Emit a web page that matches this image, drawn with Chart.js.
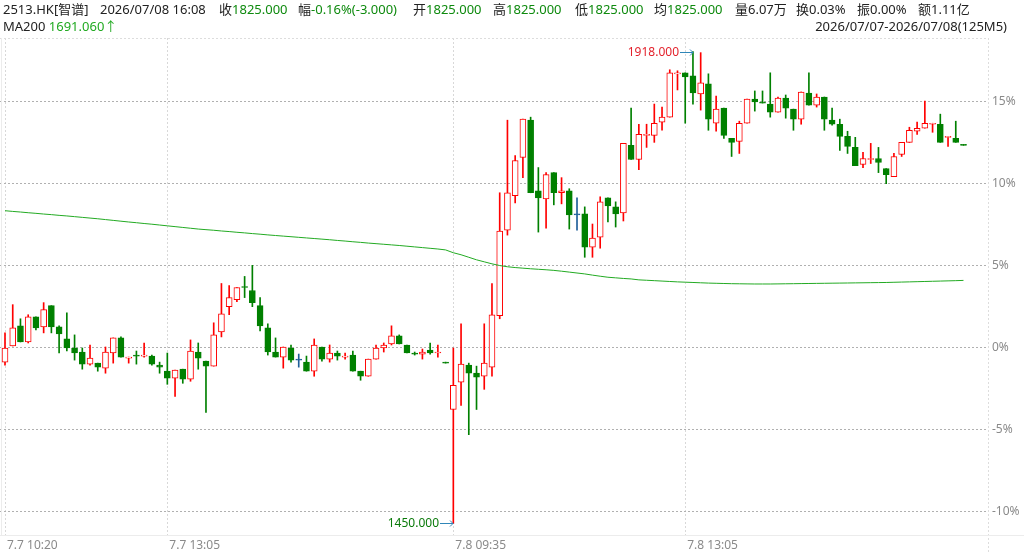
<!DOCTYPE html>
<html>
<head>
<meta charset="utf-8">
<script src="https://cdn.jsdelivr.net/npm/chart.js"></script>
<style>
  body { margin: 0; background: #fff; }
  #wrap { position: relative; width: 1024px; height: 553px; overflow: hidden; font-family: "Noto Sans", "Noto Sans CJK SC", sans-serif; font-size: 13px; color: #222; }
  #wrap canvas { position: absolute; left: 0; top: 0; }
  .t { position: absolute; white-space: nowrap; line-height: 18px; }
  .g { color: #0e8a0e; }
  .ma { color: #22aa22; }
</style>
</head>
<body>
<div id="wrap">
  <canvas id="kline" width="1024" height="553"></canvas>
  <div class="t" style="left:3px;top:0px">2513.HK[智谱]</div>
  <div class="t" style="left:100px;top:0px">2026/07/08 16:08</div>
  <div class="t" style="left:219px;top:0px">收<span class="g">1825.000</span></div>
  <div class="t" style="left:298px;top:0px">幅<span class="g">-0.16%(-3.000)</span></div>
  <div class="t" style="left:413px;top:0px">开<span class="g">1825.000</span></div>
  <div class="t" style="left:493px;top:0px">高<span class="g">1825.000</span></div>
  <div class="t" style="left:575px;top:0px">低<span class="g">1825.000</span></div>
  <div class="t" style="left:654px;top:0px">均<span class="g">1825.000</span></div>
  <div class="t" style="left:735px;top:0px">量6.07万</div>
  <div class="t" style="left:796px;top:0px">换0.03%</div>
  <div class="t" style="left:857px;top:0px">振0.00%</div>
  <div class="t" style="left:918px;top:0px">额1.11亿</div>
  <div class="t" style="left:3px;top:17px">MA200 <span class="ma">1691.060↑</span></div>
  <div class="t" style="right:17px;top:17px">2026/07/07-2026/07/08(125M5)</div>
</div>
<script>
// 5 minute bars, 7/7 10:20 -> 7/8 16:10
var opens = [1610,1626,1646,1630,1655,1645,1666,1645,1633,1624,
  1620,1608,1609,1604,1619,1634,1614,1617,1616,1616,
  1607,1601,1594,1603,1593,1620,1611,1606,1640,1665,
  1672,1685,1681,1666,1644,1620,1615,1624,1612,1610,
  1601,1625,1613,1619,1615,1617,1601,1596,1613,1624,
  1628,1636,1627,1619,1618,1622,1619,1609,1563,1590,
  1607,1599,1596,1605,1656,1741,1775,1813,1850,1780,
  1772,1798,1778,1780,1756,1757,1724,1734,1773,1764,
  1758,1825,1811,1835,1835,1848,1853,1896,1897,1894,
  1876,1886,1847,1862,1832,1829,1847,1871,1868,1866,
  1858,1872,1861,1851,1877,1865,1873,1850,1846,1834,
  1823,1806,1811,1812,1802,1794,1816,1828,1839,1842,
  1846,1846,1833,1832,1825];
var highs = [1639,1667,1653,1657,1655,1669,1666,1646,1659,1637,
  1624,1627,1609,1625,1634,1635,1615,1621,1629,1617,
  1610,1619,1602,1603,1632,1629,1611,1649,1688,1686,
  1684,1695,1706,1674,1648,1634,1625,1627,1618,1616,
  1633,1625,1627,1621,1619,1621,1601,1613,1627,1629,
  1646,1637,1627,1620,1623,1629,1627,1609,1624,1648,
  1609,1606,1648,1688,1778,1850,1815,1851,1853,1803,
  1798,1798,1793,1782,1773,1764,1747,1774,1773,1769,
  1827,1862,1846,1846,1866,1863,1900,1899,1897,1918,
  1917,1896,1874,1862,1832,1849,1871,1879,1879,1897,
  1873,1875,1861,1878,1897,1876,1873,1862,1851,1839,
  1833,1818,1827,1823,1802,1817,1828,1843,1848,1869,
  1847,1856,1834,1849,1825];
var lows = [1607,1626,1630,1629,1642,1639,1639,1619,1621,1612,
  1603,1607,1601,1599,1609,1615,1609,1608,1615,1607,
  1599,1588,1576,1589,1591,1603,1560,1606,1635,1657,
  1670,1674,1665,1641,1617,1615,1604,1610,1605,1601,
  1596,1611,1610,1612,1613,1601,1592,1596,1613,1620,
  1627,1628,1619,1617,1613,1618,1615,1609,1450,1567,
  1538,1563,1583,1596,1653,1736,1768,1793,1778,1739,
  1743,1766,1767,1742,1741,1714,1714,1723,1749,1744,
  1750,1811,1801,1823,1828,1840,1853,1880,1847,1866,
  1860,1840,1839,1832,1814,1817,1847,1859,1867,1853,
  1858,1852,1840,1846,1865,1863,1840,1845,1820,1817,
  1805,1803,1807,1798,1787,1794,1814,1828,1836,1842,
  1838,1828,1824,1828,1825];
var closes = [1624,1644,1630,1655,1644,1662,1645,1638,1624,1619,
  1608,1614,1605,1620,1634,1615,1615,1616,1617,1608,
  1605,1594,1602,1593,1621,1614,1606,1637,1658,1674,
  1684,1684,1669,1646,1620,1615,1625,1612,1612,1601,
  1627,1613,1619,1616,1616,1601,1596,1613,1624,1627,
  1636,1628,1619,1618,1620,1619,1620,1609,1587,1608,
  1599,1595,1609,1657,1740,1778,1810,1851,1778,1773,
  1796,1778,1780,1756,1756,1724,1733,1769,1765,1757,
  1827,1811,1836,1836,1847,1853,1897,1897,1893,1877,
  1887,1851,1861,1835,1828,1847,1871,1868,1867,1858,
  1872,1862,1851,1878,1865,1873,1851,1846,1834,1824,
  1805,1812,1812,1808,1796,1814,1828,1840,1842,1847,
  1847,1828,1834,1828,1825];
var ma200 = [1760.2,1759.5,1758.9,1758.2,1757.6,1756.9,1756.3,1755.6,1755.0,1754.3,
  1753.6,1752.9,1752.2,1751.4,1750.6,1749.8,1749.0,1748.3,1747.5,1746.8,
  1746.0,1745.2,1744.4,1743.6,1742.8,1742.0,1741.4,1740.8,1740.1,1739.5,
  1738.8,1738.2,1737.5,1736.9,1736.2,1735.6,1735.0,1734.4,1733.8,1733.2,
  1732.6,1732.0,1731.4,1730.7,1730.1,1729.4,1728.8,1728.1,1727.5,1726.9,
  1726.3,1725.7,1725.0,1724.3,1723.6,1722.9,1722.2,1721.3,1718.5,1716.5,
  1714.0,1711.5,1709.5,1707.5,1705.8,1704.6,1703.8,1703.2,1702.6,1702.1,
  1701.6,1701.0,1700.2,1699.3,1698.4,1697.5,1696.3,1695.2,1694.2,1693.6,
  1693.0,1692.5,1691.6,1691.2,1690.8,1690.4,1690.0,1689.6,1689.3,1689.0,
  1688.7,1688.4,1688.2,1688.0,1687.8,1687.7,1687.6,1687.5,1687.5,1687.5,
  1687.6,1687.7,1687.8,1687.9,1688.0,1688.1,1688.2,1688.3,1688.4,1688.5,
  1688.6,1688.7,1688.8,1688.9,1689.0,1689.2,1689.4,1689.6,1689.8,1690.0,
  1690.2,1690.4,1690.6,1690.8,1691.06];

var preClose = 1624.5;           // percentage axis is relative to this
var pctTicks = [15, 10, 5, 0, -5, -10];
var xLabelIdx = [0, 21, 58, 88];
var xLabelText = ['7.7 10:20', '7.7 13:05', '7.8 09:35', '7.8 13:05'];

var UP = '#ff0000', DOWN = '#008000', FLAT = '#1f5f99';
var colors = closes.map(function (c, i) {
  var o = opens[i];
  if (c > o) return UP;
  if (c < o) return DOWN;
  var prev = i > 0 ? closes[i - 1] : o;
  if (c > prev) return UP;
  if (c < prev) return DOWN;
  return FLAT;
});

var FONT = '"Noto Sans", "Noto Sans CJK SC", sans-serif';

// frame lines + high/low markers
var framePlugin = {
  id: 'frame',
  beforeDatasetsDraw: function (chart) {
    var a = chart.chartArea, ctx = chart.ctx;
    ctx.save();
    ctx.lineWidth = 1;
    ctx.strokeStyle = '#dddddd';
    ctx.setLineDash([2, 2]);
    ctx.beginPath();
    ctx.moveTo(a.left, a.top + 0.5); ctx.lineTo(a.right, a.top + 0.5);
    ctx.moveTo(a.right + 0.5, a.top); ctx.lineTo(a.right + 0.5, chart.height);
    ctx.stroke();
    ctx.setLineDash([]);
    ctx.strokeStyle = '#ececec';
    ctx.beginPath();
    ctx.moveTo(a.left, a.bottom + 0.5); ctx.lineTo(chart.width, a.bottom + 0.5);
    ctx.moveTo(1.5, a.top); ctx.lineTo(1.5, a.bottom);
    ctx.stroke();
    ctx.restore();
  },
  afterDatasetsDraw: function (chart) {
    var ctx = chart.ctx, xs = chart.scales.x, ys = chart.scales.y;
    var hi = 0, lo = 0;
    for (var i = 1; i < highs.length; i++) {
      if (highs[i] > highs[hi]) hi = i;
      if (lows[i] < lows[lo]) lo = i;
    }
    function mark(idx, val, col) {
      var x = Math.round(xs.getPixelForValue(idx)), y = Math.round(ys.getPixelForValue(val)) + 0.5;
      ctx.save();
      ctx.strokeStyle = '#2f86b8';
      ctx.lineWidth = 1;
      ctx.beginPath();
      ctx.moveTo(x - 13, y); ctx.lineTo(x, y);
      ctx.moveTo(x - 3, y - 3); ctx.lineTo(x, y); ctx.lineTo(x - 3, y + 3);
      ctx.stroke();
      ctx.fillStyle = col;
      ctx.font = '12px ' + FONT;
      ctx.textAlign = 'right';
      ctx.textBaseline = 'middle';
      ctx.fillText(val.toFixed(3), x - 14, y);
      ctx.restore();
    }
    mark(hi, highs[hi], '#e3222c');
    mark(lo, lows[lo], '#0a7a0a');
  }
};

var ctx = document.getElementById('kline').getContext('2d');
var chart = new Chart(ctx, {
  type: 'bar',
  data: {
    datasets: [{
      type: 'line',
      data: ma200.map(function (v, i) { return { x: i, y: v }; }),
      borderColor: '#22aa22',
      borderWidth: 1,
      pointRadius: 0,
      tension: 0,
      order: 0
    }, {
      // bodies
      data: closes.map(function (c, i) { return { x: i, y: [opens[i], c] }; }),
      backgroundColor: colors.map(function (c) { return c === UP ? '#ffffff' : c; }),
      borderColor: colors,
      borderWidth: 1,
      borderSkipped: false,
      barThickness: 6,
      minBarLength: 1,
      grouped: false,
      order: 1
    }, {
      // wicks
      data: lows.map(function (l, i) { return { x: i, y: [l, highs[i]] }; }),
      backgroundColor: colors,
      borderWidth: 0,
      barThickness: 1,
      minBarLength: 1,
      grouped: false,
      order: 2
    }]
  },
  options: {
    responsive: false,
    animation: false,
    devicePixelRatio: 1,
    layout: { padding: { top: 38, left: 0, right: 0, bottom: 0 } },
    plugins: { legend: { display: false }, tooltip: { enabled: false } },
    scales: {
      x: {
        type: 'linear',
        offset: false,
        min: -0.647,
        max: 127.17,
        afterBuildTicks: function (s) { s.ticks = xLabelIdx.map(function (v) { return { value: v }; }); },
        afterFit: function (s) { s.height = 18; },
        grid: { color: '#d8d8d8', drawTicks: false, offset: false },
        border: { display: false, dash: [2, 2] },
        ticks: {
          autoSkip: false, maxRotation: 0, align: 'start', padding: 3, labelOffset: 2,
          color: '#8a8a8a', font: { size: 12, family: FONT },
          callback: function (v) { var k = xLabelIdx.indexOf(v); return k < 0 ? '' : xLabelText[k]; }
        }
      },
      y: {
        position: 'right',
        min: preClose * (1 - 11.45 / 100),
        max: preClose * (1 + 18.9 / 100),
        afterBuildTicks: function (s) { s.ticks = pctTicks.map(function (p) { return { value: preClose * (1 + p / 100) }; }); },
        afterFit: function (s) { s.width = 36; },
        grid: { color: '#b0b0b0', drawTicks: false },
        border: { display: false, dash: [2, 2] },
        ticks: {
          padding: 4, color: '#8a8a8a', font: { size: 12, family: FONT },
          callback: function (v) { return Math.round((v / preClose - 1) * 100) + '%'; }
        }
      }
    }
  },
  plugins: [framePlugin]
});
</script>
</body>
</html>
